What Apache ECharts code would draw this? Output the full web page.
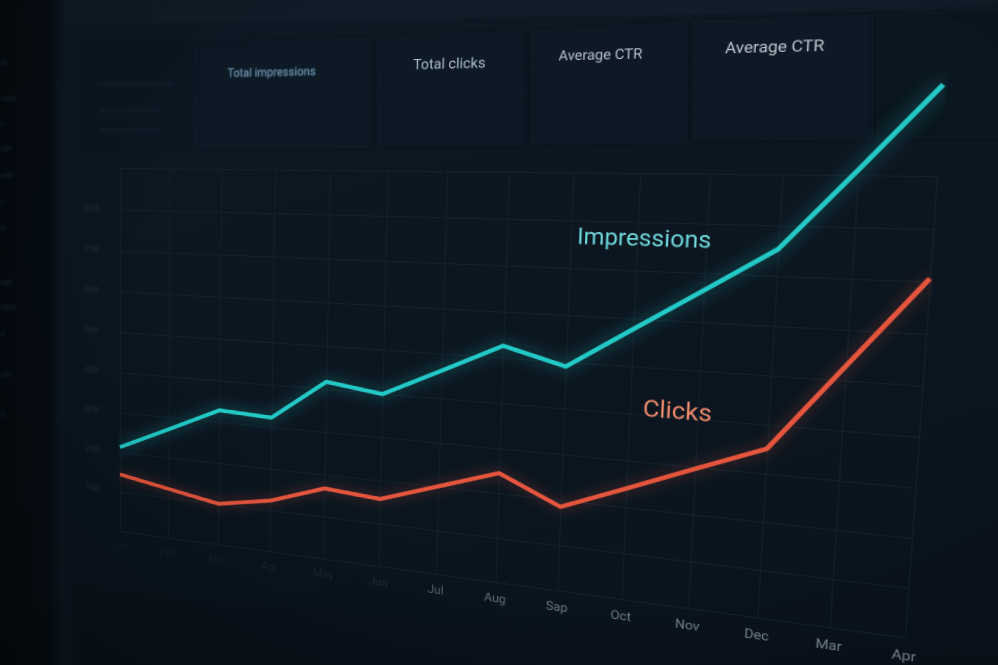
<!DOCTYPE html>
<html>
<head>
<meta charset="utf-8">
<script src="https://cdn.jsdelivr.net/npm/echarts@6/dist/echarts.min.js"></script>
<style>
html,body{margin:0;padding:0;width:998px;height:665px;overflow:hidden;background:#060c12;}
#stage{position:absolute;left:0;top:0;width:998px;height:665px;overflow:hidden;
  background:linear-gradient(to right,#050b10 0px,#070e14 50px,#0b151e 58px,#0d1822 66px,#0a141d 76px,#0a141d 100%);}
#panel{position:absolute;left:0;top:0;width:998px;height:665px;
  clip-path:polygon(64px 0px,998px 0px,998px 652px,520px 633px,64px 583px);
  background:linear-gradient(165deg,#0d1924 0%,#0b1620 45%,#0a141e 100%);}
#chart{position:absolute;left:0;top:0;width:1150px;height:760px;transform-origin:0 0;}
#vignette{position:absolute;left:0;top:0;width:998px;height:665px;pointer-events:none;
  background:radial-gradient(ellipse at 62% 38%,rgba(0,0,0,0) 55%,rgba(0,0,0,0.28) 100%);}
.sb{position:absolute;height:5px;border-radius:3px;background:#0e1820;filter:blur(1.5px);}
</style>
</head>
<body>
<div id="stage">
  <div id="panel"></div>
  <div class="sb" style="left:0;top:60px;width:8px"></div>
  <div class="sb" style="left:0;top:96px;width:16px"></div>
  <div class="sb" style="left:0;top:122px;width:4px"></div>
  <div class="sb" style="left:0;top:146px;width:12px"></div>
  <div class="sb" style="left:0;top:173px;width:14px"></div>
  <div class="sb" style="left:0;top:200px;width:4px"></div>
  <div class="sb" style="left:0;top:226px;width:6px"></div>
  <div class="sb" style="left:0;top:280px;width:12px"></div>
  <div class="sb" style="left:0;top:305px;width:16px"></div>
  <div class="sb" style="left:0;top:332px;width:5px"></div>
  <div class="sb" style="left:0;top:372px;width:12px"></div>
  <div class="sb" style="left:0;top:412px;width:6px"></div>
  <div id="chart"></div>
  <div id="vignette"></div>
</div>
<script>
// ---------------- data ----------------
const months = ['Jan','Feb','Mar','Apr','May','Jun','Jul','Aug','Sap','Oct','Nov','Dec','Mar','Apr'];
const impressions = [21.3, 27.0, 32.8, 32.2, 41.7, 39.9, 46.2, 52.6, 49.0, 57.8, 66.5, 75.3, 91.0, 107.0];
const clicks = [14.4, 12.2, 10.0, 12.3, 16.7, 15.7, 20.1, 24.5, 18.5, 24.0, 29.6, 35.1, 52.9, 70.6];
const yTickLabels = ['','10K','20K','30K','40K','50K','60K','70K','80K',''];
const cardTitles = ['Total impressions','Total clicks','Average CTR','Average CTR'];
const seriesNames = ['Impressions','Clicks'];

// ---------------- perspective (layout only) ----------------
const G = {left:160, top:200, width:832, height:432};
const src = [[G.left, G.top+G.height],[G.left+G.width, G.top+G.height],[G.left, G.top],[G.left+G.width, G.top]];
const dst = [[120,531],[905,637.5],[120,168],[937,176]];

function solveH(s, d){
  const A=[], b=[];
  for(let i=0;i<4;i++){
    const u=s[i][0], v=s[i][1], x=d[i][0], y=d[i][1];
    A.push([u,v,1,0,0,0,-u*x,-v*x]); b.push(x);
    A.push([0,0,0,u,v,1,-u*y,-v*y]); b.push(y);
  }
  const n=8;
  for(let c=0;c<n;c++){
    let p=c;
    for(let r=c+1;r<n;r++) if(Math.abs(A[r][c])>Math.abs(A[p][c])) p=r;
    [A[c],A[p]]=[A[p],A[c]]; [b[c],b[p]]=[b[p],b[c]];
    for(let r=0;r<n;r++){
      if(r===c) continue;
      const f=A[r][c]/A[c][c];
      for(let k=c;k<n;k++) A[r][k]-=f*A[c][k];
      b[r]-=f*b[c];
    }
  }
  const h=b.map((v,i)=>v/A[i][i]);
  return [h[0],h[1],h[2],h[3],h[4],h[5],h[6],h[7],1];
}
function inv3(m){
  const [a,b,c,d,e,f,g,h,i]=m;
  const A=e*i-f*h, B=-(d*i-f*g), C=d*h-e*g;
  const D=-(b*i-c*h), E=a*i-c*g, F=-(a*h-b*g);
  const Gg=b*f-c*e, Hh=-(a*f-c*d), I=a*e-b*d;
  const det=a*A+b*B+c*C;
  return [A/det,D/det,Gg/det,B/det,E/det,Hh/det,C/det,F/det,I/det];
}
const H = solveH(src, dst);
const Hi = inv3(H);
function toFlat(p){
  const x=p[0], y=p[1];
  const w=Hi[6]*x+Hi[7]*y+Hi[8];
  return [(Hi[0]*x+Hi[1]*y+Hi[2])/w, (Hi[3]*x+Hi[4]*y+Hi[5])/w];
}
const el = document.getElementById('chart');
el.style.transform = 'matrix3d('+[H[0],H[3],0,H[6], H[1],H[4],0,H[7], 0,0,1,0, H[2],H[5],0,H[8]].join(',')+')';

// ---------------- decorative cards (image space -> flat) ----------------
const cardQuads = [
  [[84,45],[188,43],[188,150],[84,150]],
  [[194,44],[372,38],[372,147],[194,149]],
  [[378,37],[526,31],[526,145],[378,146]],
  [[531,31],[687,22],[687,142],[531,144]],
  [[693,22],[873,15],[873,138],[693,140]],
  [[878,15],[1010,10],[1010,137],[878,138]]
];
const cardText = [
  {t:0, at:[271,73], size:13, color:'#5f7f98', blur:2},
  {t:1, at:[449,65], size:15, color:'#aebecb', blur:0},
  {t:2, at:[600,56], size:14, color:'#b6c2cc', blur:0},
  {t:3, at:[774,48], size:15, color:'#bcc8d1', blur:0}
];
const graphics = [];
graphics.push({type:'polygon', z:-1, silent:true,
  shape:{points:[[64,0],[998,0],[998,10],[64,24]].map(toFlat)},
  style:{fill:'#101c27'}});
cardQuads.forEach((q,i)=>{
  graphics.push({type:'polygon', z:-1, silent:true,
    shape:{points:q.map(toFlat)},
    style:{fill: i===0 ? '#0b1721' : (i===5 ? '#0b1720' : '#0d1a25'), stroke:'#0f1d29', lineWidth:1,
      shadowColor:'rgba(0,0,0,0.35)', shadowBlur:6}});
});
[[[97,82],[173,82],[173,87],[97,87]],[[100,108],[160,108],[160,113],[100,113]],[[100,128],[160,128],[160,133],[100,133]]].forEach(q=>{
  graphics.push({type:'polygon', z:-1, silent:true, shape:{points:q.map(toFlat)}, style:{fill:'#0f1b26'}});
});
cardText.forEach(c=>{
  const p = toFlat(c.at);
  graphics.push({type:'text', z:1, silent:true, x:p[0], y:p[1],
    style:{text:cardTitles[c.t], fill:c.color, fontSize:c.size, fontFamily:'Roboto',
      textShadowColor:c.blur ? c.color : 'transparent', textShadowBlur:c.blur,
      textAlign:'center', textVerticalAlign:'middle', align:'center', verticalAlign:'middle'}});
});
const seriesLabels = [
  {i:0, at:[643,240], color:'#6dd8da'},
  {i:1, at:[677,413], color:'#ef8a6b'}
];
seriesLabels.forEach(s=>{
  const p = toFlat(s.at);
  graphics.push({type:'text', z:5, silent:true, x:p[0], y:p[1],
    style:{text:seriesNames[s.i], fill:s.color, fontSize:s.i===0 ? 23 : 24, fontFamily:'Roboto',
      textAlign:'center', textVerticalAlign:'middle', align:'center', verticalAlign:'middle'}});
});

// ---------------- chart ----------------
const chart = echarts.init(el, null, {renderer:'canvas', devicePixelRatio:2});
function labelColor(v, idx){
  const cols = ['#101b25','#121d27','#141f29','#17222c','#1a2530','#1f2a35',
                '#56626d','#636f7a','#6f7b85','#76828c','#7c8892','#808c96','#848f99','#86929b'];
  return cols[idx] || '#86929b';
}
chart.setOption({
  backgroundColor:'transparent',
  animation:false,
  grid:{left:G.left, top:G.top, width:G.width, height:G.height, containLabel:false},
  xAxis:{
    type:'category', data:months, boundaryGap:false,
    axisLine:{show:true, lineStyle:{color:'#142330', width:1}},
    axisTick:{show:false},
    axisLabel:{color:labelColor, fontSize:13, fontFamily:'Roboto', margin:12},
    splitLine:{show:true, lineStyle:{color:'#122029', width:1}}
  },
  yAxis:{
    type:'value', min:0, max:90, interval:10,
    axisLine:{show:false}, axisTick:{show:false},
    axisLabel:{formatter:(v)=>yTickLabels[Math.round(v/10)] || '', color:'#1a2631', fontSize:11,
      fontFamily:'Roboto', margin:28, textShadowColor:'#1a2631', textShadowBlur:5},
    splitLine:{show:true, lineStyle:{color:'#13212d', width:1}}
  },
  graphic: graphics,
  series:[
    {name:seriesNames[0], type:'line', data:impressions, symbol:'none', clip:false, z:4,
     lineStyle:{color:'#22c9c6', width:4.5, shadowColor:'rgba(34,201,198,0.55)', shadowBlur:16},
     itemStyle:{color:'#22c9c6'}},
    {name:seriesNames[1], type:'line', data:clicks, symbol:'none', clip:false, z:4,
     lineStyle:{color:'#e5553d', width:4.5, shadowColor:'rgba(229,85,61,0.45)', shadowBlur:14},
     itemStyle:{color:'#e5553d'}}
  ]
});
</script>
</body>
</html>
